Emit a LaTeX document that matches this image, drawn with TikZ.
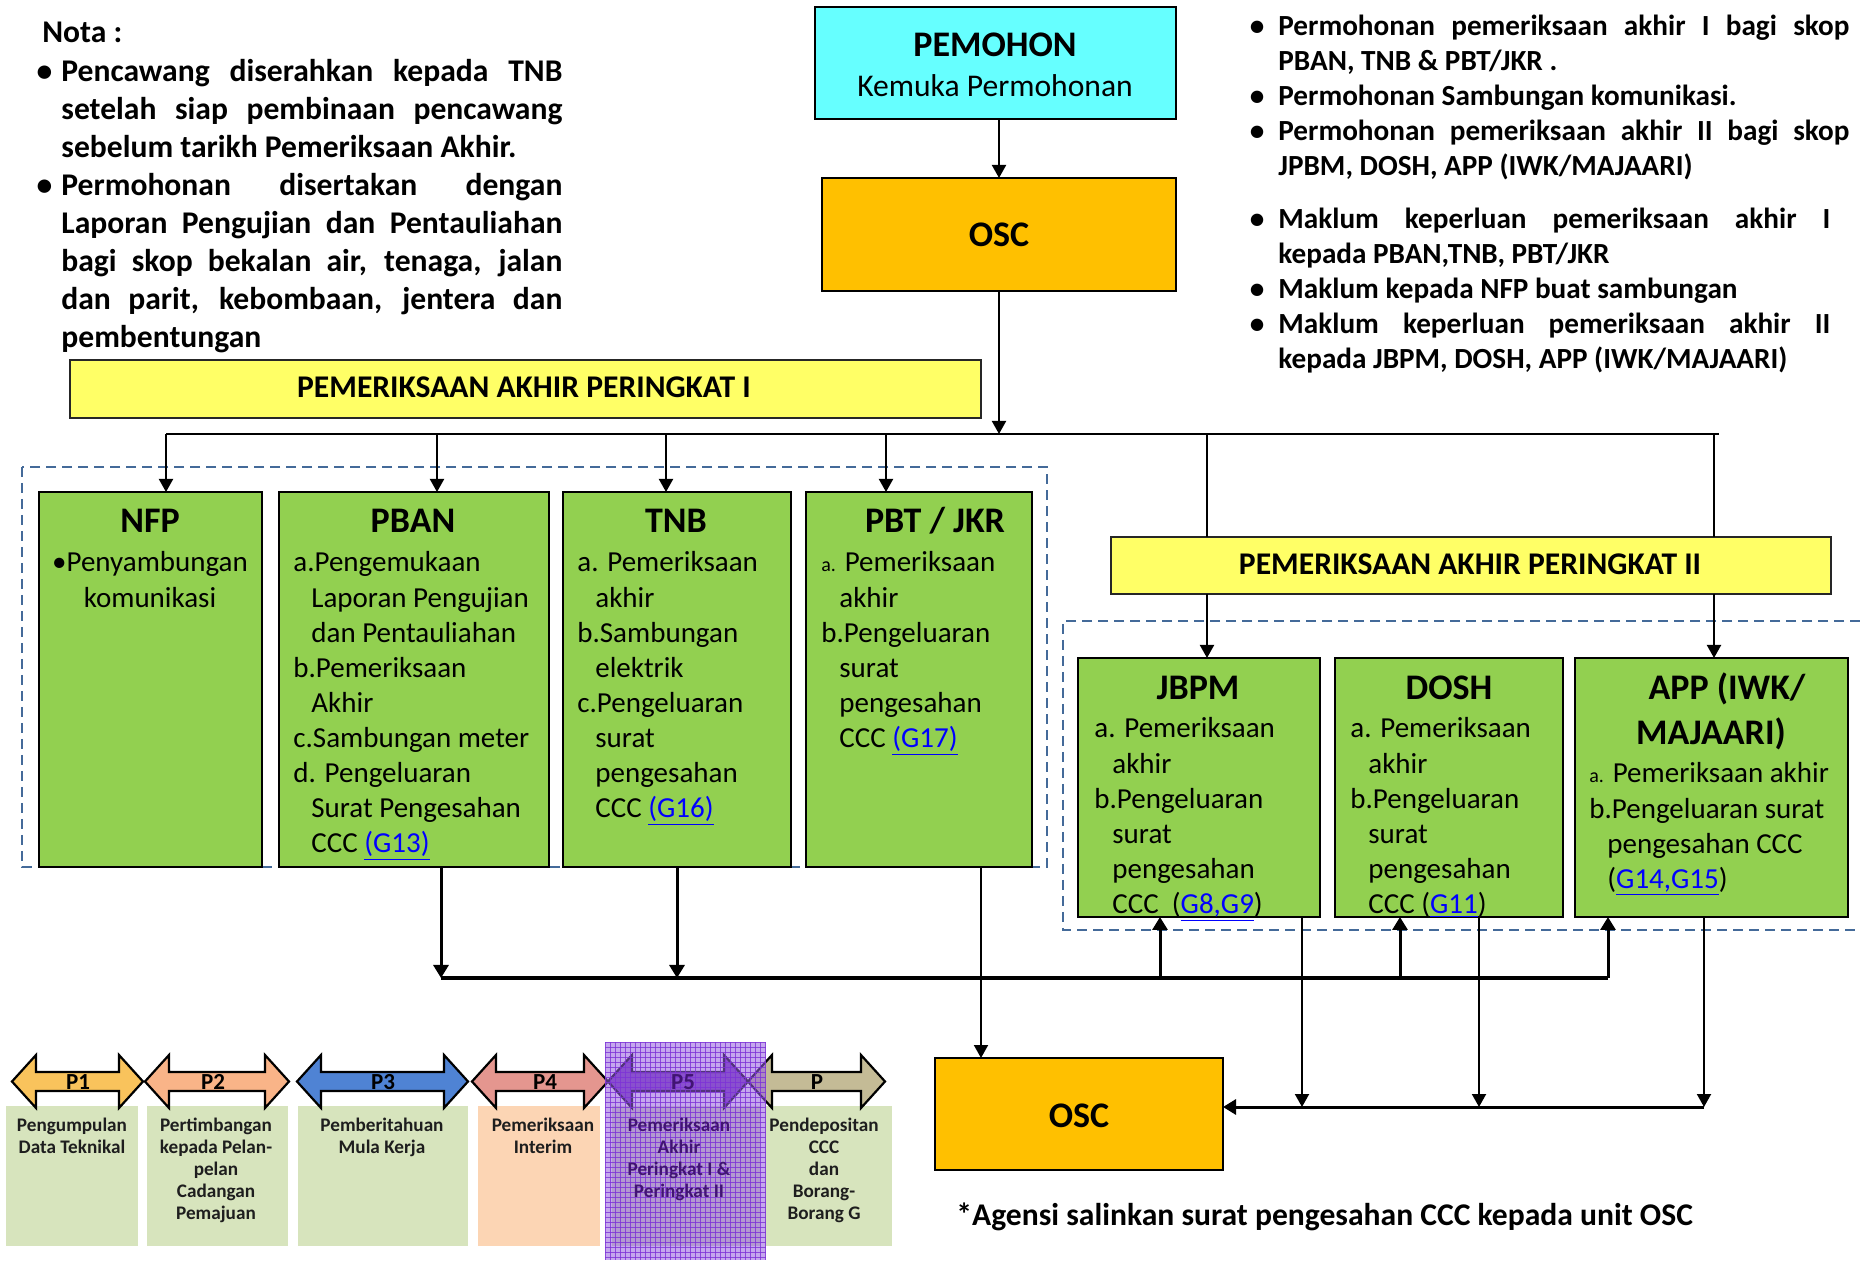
\documentclass[tikz,border=0pt]{standalone}
\usepackage{fontspec}
\setmainfont{Carlito}
\usetikzlibrary{arrows.meta,fit}
\definecolor{cyanbox}{HTML}{66FFFF}
\definecolor{oscfill}{HTML}{FFC000}
\definecolor{baryel}{HTML}{FFFF66}
\definecolor{grn}{HTML}{92D050}
\definecolor{dashblue}{RGB}{68,106,153}
\definecolor{linkblue}{HTML}{0000FF}
\definecolor{leggreen}{HTML}{D7E4BD}
\definecolor{legpeach}{HTML}{FCD5B4}
\definecolor{pone}{HTML}{F9C35C}
\definecolor{ptwo}{HTML}{F9B488}
\definecolor{pthree}{HTML}{4F83D4}
\definecolor{pfour}{HTML}{E4968F}
\definecolor{pfive}{HTML}{7B3EB8}
\definecolor{plast}{HTML}{C4BB96}
\definecolor{ovl}{RGB}{150,95,225}
\definecolor{ovlgrid}{RGB}{125,50,215}
\definecolor{ovltext}{RGB}{65,20,115}
\definecolor{legtext}{RGB}{30,30,30}
\newcommand\lnk[1]{\textcolor{linkblue}{\underline{#1}}}
\newcommand\ind{\hspace*{9pt}}
\newcommand\bodyp[1]{\parbox[t]{200pt}{\fontsize{14.5}{17.55}\selectfont\raggedright #1}}
\newcommand\legp[1]{\parbox[t]{80pt}{\centering\fontsize{9.6}{11.1}\selectfont\bfseries #1}}
\newcommand\smalla{{\fontsize{10}{10}\selectfont a.}}
\newcommand\legshape[3]{%
  \filldraw[fill=#3, draw=black, line width=1.1pt, line join=miter]
    (#1,1081.5) -- ({#1+24},1055) -- ({#1+24},1072) -- ({#2-24},1072) -- ({#2-24},1055)
    -- (#2,1081.5) -- ({#2-24},1108) -- ({#2-24},1091) -- ({#1+24},1091) -- ({#1+24},1108) -- cycle;}
\tikzset{
  box/.style={draw=black, line width=1.4pt, inner sep=0pt, outer sep=0pt},
  greenbox/.style={box, fill=grn},
  yelbar/.style={draw=black!85, line width=1.2pt, fill=baryel, inner sep=0pt, outer sep=0pt},
  dashbox/.style={draw=dashblue, line width=1.1pt, dash pattern=on 5pt off 3pt},
  thinline/.style={line width=1pt},
  thinarr/.style={line width=1pt, -{Triangle[length=6.5pt,width=7pt]}},
  thickarr/.style={line width=1.5pt, -{Triangle[length=6.5pt,width=7.5pt]}},
  ttl/.style={font=\fontsize{18}{21}\selectfont\bfseries, inner sep=0pt, anchor=base},
  bartxt/.style={font=\fontsize{15.8}{19}\selectfont\bfseries, inner sep=0pt, anchor=base},
  txt/.style={inner sep=0pt, anchor=base west},
  legbox/.style={inner sep=0pt, anchor=base, text=legtext},
  leglab/.style={anchor=base, inner sep=0pt, font=\fontsize{11.5}{12}\selectfont\bfseries},
}
\begin{document}
\begin{tikzpicture}[x=0.5pt, y=-0.5pt]
\useasboundingbox[fill=white] (0,0) rectangle (1860,1261);

% ---------- Nota ----------
\node[txt, font=\fontsize{15.8}{19}\selectfont\bfseries] (notaT) at (42,43) {Nota :};
\node[txt] (nota) at (61,82) {\parbox[t]{250.5pt}{\fontsize{15.8}{19}\selectfont\bfseries
\leavevmode\llap{\textbullet\hspace{4.5pt}}\makebox[\linewidth][s]{Pencawang diserahkan kepada TNB}\\
\makebox[\linewidth][s]{setelah siap pembinaan pencawang}\\
sebelum tarikh Pemeriksaan Akhir.\\
\llap{\textbullet\hspace{4.5pt}}\makebox[\linewidth][s]{Permohonan disertakan dengan}\\
\makebox[\linewidth][s]{Laporan Pengujian dan Pentauliahan}\\
\makebox[\linewidth][s]{bagi skop bekalan air, tenaga, jalan}\\
\makebox[\linewidth][s]{dan parit, kebombaan, jentera dan}\\
pembentungan}};

% ---------- right notes ----------
\node[txt] (rnote1) at (1278,36) {\parbox[t]{285.5pt}{\fontsize{14.6}{17.5}\selectfont\bfseries
\leavevmode\llap{\textbullet\hspace{7pt}}\makebox[\linewidth][s]{Permohonan pemeriksaan akhir I bagi skop}\\
PBAN, TNB \& PBT/JKR .\\
\llap{\textbullet\hspace{7pt}}Permohonan Sambungan komunikasi.\\
\llap{\textbullet\hspace{7pt}}\makebox[\linewidth][s]{Permohonan pemeriksaan akhir II bagi skop}\\
JPBM, DOSH, APP (IWK/MAJAARI)}};
\node[txt] (rnote2) at (1278,229) {\parbox[t]{285.5pt}{\fontsize{14.6}{17.5}\selectfont\bfseries
\leavevmode\llap{\textbullet\hspace{7pt}}\makebox[276pt][s]{Maklum keperluan pemeriksaan akhir I}\\
kepada PBAN,TNB, PBT/JKR\\
\llap{\textbullet\hspace{7pt}}Maklum kepada NFP buat sambungan\\
\llap{\textbullet\hspace{7pt}}\makebox[276pt][s]{Maklum keperluan pemeriksaan akhir II}\\
kepada JBPM, DOSH, APP (IWK/MAJAARI)}};

% ---------- PEMOHON / OSC ----------
\node[box, fill=cyanbox, line width=1.2pt, fit={(815,7)(1176,119)}] (pemohon) {};
\node[ttl] (pemohonT) at (995,57) {PEMOHON};
\node[anchor=base, inner sep=0pt, font=\fontsize{15.8}{19}\selectfont] (pemohonS) at (995,97) {Kemuka Permohonan};
\node[box, fill=oscfill, fit={(822,178)(1176,291)}] (osc1) {};
\node[ttl] (osc1T) at (999,247) {OSC};
\draw[thinarr] (pemohon.south -| osc1.north) -- (osc1.north);

% ---------- Bar I ----------
\node[yelbar, fit={(70,360)(981,418)}] (bar1) {};
\node[bartxt] (bar1T) at (524,398) {PEMERIKSAAN AKHIR PERINGKAT I};

% ---------- distribution line ----------
\coordinate (jtop) at (999,434);
\coordinate (hlL) at (166,434);
\coordinate (hlR) at (1719,434);
\draw[thinarr] (osc1.south) -- (jtop);
\draw[line width=1.4pt] (hlL) -- (hlR);

% ---------- Peringkat I boxes ----------
\draw[dashbox] (22,467) rectangle (1047,867);
\node[greenbox, fit={(39,492)(262,867)}] (nfp) {};
\node[greenbox, fit={(279,492)(549,867)}] (pban) {};
\node[greenbox, fit={(563,492)(791,867)}] (tnb) {};
\node[greenbox, fit={(806,492)(1032,867)}] (pbt) {};

\node[ttl] (nfpT) at (150,533) {NFP};
\node[anchor=base, inner sep=0pt] (nfpB) at (150,572) {\parbox[t]{120pt}{\centering\fontsize{14.5}{17.55}\selectfont
\textbullet Penyambungan\\komunikasi}};

\node[ttl] (pbanT) at (413,533) {PBAN};
\node[txt] (pbanB) at (293,572) {\bodyp{a.Pengemukaan\\
\ind Laporan Pengujian\\
\ind dan Pentauliahan\\
b.Pemeriksaan\\
\ind Akhir\\
c.Sambungan meter\\
d. Pengeluaran\\
\ind Surat Pengesahan\\
\ind CCC \lnk{(G13)}}};

\node[ttl] (tnbT) at (676,533) {TNB};
\node[txt] (tnbB) at (577,572) {\bodyp{a. Pemeriksaan\\
\ind akhir\\
b.Sambungan\\
\ind elektrik\\
c.Pengeluaran\\
\ind surat\\
\ind pengesahan\\
\ind CCC \lnk{(G16)}}};

\node[ttl] (pbtT) at (935,533) {PBT / JKR};
\node[txt] (pbtB) at (821,572) {\bodyp{\smalla{} Pemeriksaan\\
\ind akhir\\
b.Pengeluaran\\
\ind surat\\
\ind pengesahan\\
\ind CCC \lnk{(G17)}}};

\coordinate (xpban) at (437,434);
\coordinate (xtnb) at (666,434);
\coordinate (xpbt) at (886,434);
\draw[thinarr] (hlL) -- (hlL |- nfp.north);
\draw[thinarr] (xpban) -- (xpban |- pban.north);
\draw[thinarr] (xtnb) -- (xtnb |- tnb.north);
\draw[thinarr] (xpbt) -- (xpbt |- pbt.north);

% ---------- Bar II ----------
\node[yelbar, fit={(1111,537)(1831,594)}] (bar2) {};
\node[bartxt] (bar2T) at (1470,575) {PEMERIKSAAN AKHIR PERINGKAT II};

% ---------- Peringkat II boxes ----------
\draw[dashbox] (1860,621) -- (1063,621) -- (1063,930) -- (1860,930);
\node[greenbox, fit={(1078,658)(1320,917)}] (jbpm) {};
\node[greenbox, fit={(1335,658)(1563,917)}] (dosh) {};
\node[greenbox, fit={(1575,658)(1848,917)}] (app) {};

\coordinate (v1) at (1207,434);
\coordinate (v2) at (1714,434);
\draw[thinline] (v1) -- (v1 |- bar2.north);
\draw[thinline] (v2) -- (v2 |- bar2.north);
\draw[thinarr] (v1 |- bar2.south) -- (v1 |- jbpm.north);
\draw[thinarr] (v2 |- bar2.south) -- (v2 |- app.north);

\node[ttl] (jbpmT) at (1198,700) {JBPM};
\node[txt] (jbpmB) at (1094,738) {\bodyp{a. Pemeriksaan\\
\ind akhir\\
b.Pengeluaran\\
\ind surat\\
\ind pengesahan\\
\ind CCC\ \ (\lnk{G8,G9})}};

\node[ttl] (doshT) at (1449,700) {DOSH};
\node[txt] (doshB) at (1350,738) {\bodyp{a. Pemeriksaan\\
\ind akhir\\
b.Pengeluaran\\
\ind surat\\
\ind pengesahan\\
\ind CCC (\lnk{G11})}};

\node[ttl] (appT1) at (1727,700) {APP (IWK/};
\node[ttl] (appT2) at (1711,745) {MAJAARI)};
\node[txt] (appB) at (1589,783) {\bodyp{\smalla{} Pemeriksaan akhir\\
b.Pengeluaran surat\\
\ind pengesahan CCC\\
\ind (\lnk{G14,G15})}};

% ---------- feedback from Peringkat I to Peringkat II ----------
\coordinate (bL) at (441,978);
\coordinate (bT) at (677,978);
\coordinate (bJ) at (1160,978);
\coordinate (bD) at (1400,978);
\coordinate (bR) at (1608,978);
\draw[thickarr] (pban.south -| bL) -- (bL);
\draw[thickarr] (tnb.south -| bT) -- (bT);
\draw[line width=1.7pt] (bL) -- (bR);
\draw[thickarr] (bJ) -- (bJ |- jbpm.south);
\draw[thickarr] (bD) -- (bD |- dosh.south);
\draw[thickarr] (bR) -- (bR |- app.south);

% ---------- OSC (bottom) ----------
\node[box, fill=oscfill, fit={(935,1058)(1223,1170)}] (osc2) {};
\node[ttl] (osc2T) at (1079,1127) {OSC};
\coordinate (xpbtd) at (981,0);
\draw[thinarr] (xpbtd |- pbt.south) -- (xpbtd |- osc2.north);
\coordinate (rJ) at (1302,1107);
\coordinate (rD) at (1479,1107);
\coordinate (rA) at (1704,1107);
\draw[thinarr] (rJ |- jbpm.south) -- (rJ);
\draw[thinarr] (rD |- dosh.south) -- (rD);
\draw[thinarr] (rA |- app.south) -- (rA);
\draw[line width=1.5pt, -{Triangle[length=6.5pt,width=7.5pt]}] (rA) -- (rA -| osc2.east);

\node[txt, font=\fontsize{15.8}{19}\selectfont\bfseries] (foot) at (956,1225) {*Agensi salinkan surat pengesahan CCC kepada unit OSC};

% ---------- legend ----------
\fill[leggreen] (6,1106) rectangle (138,1246);
\fill[leggreen] (147,1106) rectangle (288,1246);
\fill[leggreen] (298,1106) rectangle (468,1246);
\fill[legpeach] (478,1106) rectangle (600,1246);
\fill[leggreen] (612,1106) rectangle (760,1246);
\fill[leggreen] (765,1106) rectangle (892,1246);

\legshape{12}{143}{pone}
\legshape{145}{289}{ptwo}
\legshape{297}{468}{pthree}
\legshape{472}{608}{pfour}
\legshape{608}{748}{pfive}
\legshape{748}{885}{plast}
\node[leglab] (lp1) at (78,1089) {P1};
\node[leglab] (lp2) at (213,1089) {P2};
\node[leglab] (lp3) at (383,1089) {P3};
\node[leglab] (lp4) at (545,1089) {P4};
\node[leglab] (lp6) at (817,1089) {P};

\node[legbox] (lt1) at (72,1131) {\legp{Pengumpulan\\Data Teknikal}};
\node[legbox] (lt2) at (216,1131) {\legp{Pertimbangan\\kepada Pelan-\\pelan\\Cadangan\\Pemajuan}};
\node[legbox] (lt3) at (382,1131) {\legp{Pemberitahuan\\Mula Kerja}};
\node[legbox] (lt4) at (543,1131) {\legp{Pemeriksaan\\Interim}};
\node[legbox] (lt6) at (824,1131) {\legp{Pendepositan\\CCC\\dan\\Borang-\\Borang G}};

% purple highlight overlay
\fill[ovl, opacity=0.55] (605,1042) rectangle (766,1260);
\foreach \gx in {605,610,...,765} \draw[ovlgrid, opacity=0.8, line width=0.45pt] (\gx,1042) -- (\gx,1260);
\foreach \gy in {1042,1047,...,1258} \draw[ovlgrid, opacity=0.8, line width=0.45pt] (605,\gy) -- (766,\gy);
\node[leglab, text=ovltext] (lp5) at (683,1089) {P5};
\node[legbox, text=ovltext] (lt5) at (679,1131) {\legp{Pemeriksaan\\Akhir\\Peringkat I \&\\Peringkat II}};
\end{tikzpicture}
\end{document}
